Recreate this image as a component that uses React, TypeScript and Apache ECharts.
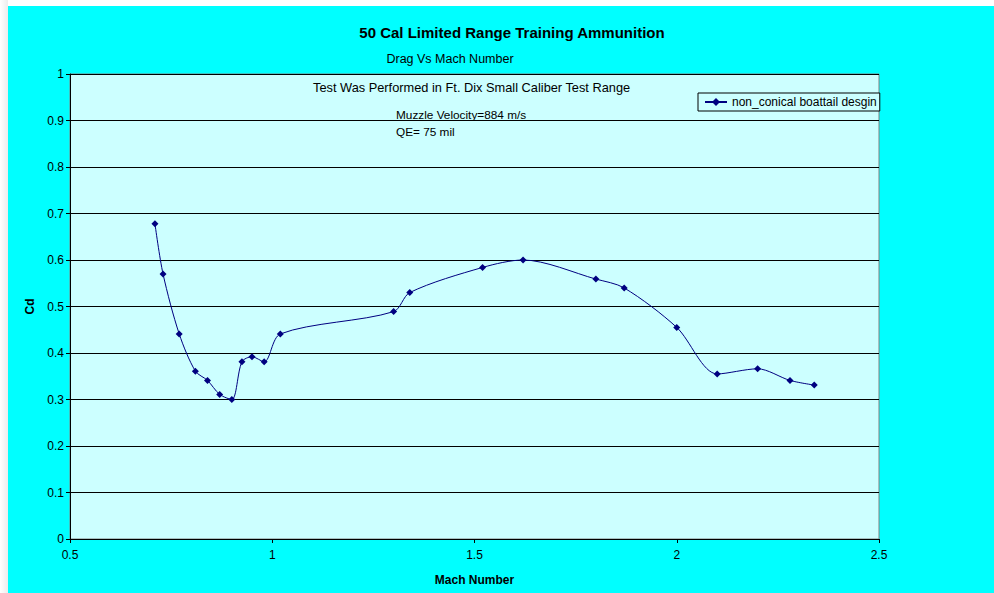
import React, { useEffect, useRef } from "react";
import * as echarts from "echarts";

const machNumbers = [0.71, 0.73, 0.77, 0.81, 0.84, 0.87, 0.9, 0.925, 0.95, 0.98, 1.02, 1.3, 1.34, 1.52, 1.62, 1.8, 1.87, 2.0, 2.1, 2.2, 2.28, 2.34];
const dragCd = [0.678, 0.57, 0.441, 0.361, 0.341, 0.311, 0.3, 0.381, 0.392, 0.381, 0.441, 0.489, 0.53, 0.584, 0.6, 0.559, 0.54, 0.455, 0.355, 0.366, 0.341, 0.331];
const seriesName = "non_conical boattail desgin";
const chartTitle = "50 Cal Limited Range Training Ammunition";
const chartSubtitle = "Drag Vs Mach Number";
const noteLines = ["Test Was Performed in Ft. Dix Small Caliber Test Range", "Muzzle Velocity=884 m/s", "QE= 75 mil"];

export default function App() {
  const ref = useRef<HTMLDivElement>(null);
  useEffect(() => {
    if (!ref.current) return;
    const chart = echarts.init(ref.current, null, { renderer: "svg" });
    const font = "Arial, 'Liberation Sans', sans-serif";
    chart.setOption({
      animation: false,
      backgroundColor: "#00FFFF",
      textStyle: { fontFamily: font },
      title: [
        {
          text: chartTitle,
          left: 499,
          top: 14,
          textAlign: "center",
          textStyle: { fontFamily: font, fontSize: 15, fontWeight: "bold", color: "#000" },
        },
        {
          text: chartSubtitle,
          left: 437,
          top: 41,
          textAlign: "center",
          textStyle: { fontFamily: font, fontSize: 12.5, fontWeight: "normal", color: "#000" },
        },
      ],
      graphic: [
        { type: "text", left: 305, top: 75, style: { text: noteLines[0], font: `12.8px ${font}`, fill: "#000" } },
        { type: "text", left: 388, top: 103, style: { text: noteLines[1], font: `11.8px ${font}`, fill: "#000" } },
        { type: "text", left: 388, top: 120, style: { text: noteLines[2], font: `11.8px ${font}`, fill: "#000" } },
      ],
      legend: {
        left: 690,
        top: 87,
        backgroundColor: "#CCFFFF",
        borderColor: "#000",
        borderWidth: 1,
        borderRadius: 0,
        padding: [3, 3, 3, 6],
        itemWidth: 22,
        itemHeight: 10,
        itemGap: 4,
        textStyle: { fontFamily: font, fontSize: 12, color: "#000", padding: [0, 0, 0, 0] },
        data: [{ name: seriesName }],
      },
      grid: {
        left: 62,
        right: 115,
        top: 68,
        bottom: 54,
        show: true,
        backgroundColor: "#CCFFFF",
        borderColor: "#808080",
        borderWidth: 1,
      },
      xAxis: {
        type: "value",
        min: 0.5,
        max: 2.5,
        interval: 0.5,
        name: "Mach Number",
        nameLocation: "middle",
        nameGap: 35,
        nameTextStyle: { fontFamily: font, fontSize: 12, fontWeight: "bold", color: "#000" },
        axisLine: { show: true, lineStyle: { color: "#000", width: 1 } },
        axisTick: { show: true, inside: false, length: 4, lineStyle: { color: "#000" } },
        axisLabel: { fontFamily: font, fontSize: 12, color: "#000", margin: 10 },
        splitLine: { show: false },
      },
      yAxis: {
        type: "value",
        min: 0,
        max: 1,
        interval: 0.1,
        name: "Cd",
        nameLocation: "middle",
        nameGap: 34,
        nameTextStyle: { fontFamily: font, fontSize: 12, fontWeight: "bold", color: "#000" },
        axisLine: { show: true, lineStyle: { color: "#000", width: 1 } },
        axisTick: { show: true, inside: false, length: 4, lineStyle: { color: "#000" } },
        axisLabel: { fontFamily: font, fontSize: 12, color: "#000", margin: 6 },
        splitLine: { show: true, lineStyle: { color: "#000", width: 1 } },
      },
      series: [
        {
          name: seriesName,
          type: "line",
          data: machNumbers.map((m, i) => [m, dragCd[i]]),
          smooth: 0.3,
          symbol: "diamond",
          symbolSize: 7,
          showAllSymbol: true,
          lineStyle: { color: "#000080", width: 1 },
          itemStyle: { color: "#000080" },
        },
      ],
    });
    return () => chart.dispose();
  }, []);
  return (
    <div
      style={{
        position: "fixed",
        left: 0,
        top: 0,
        width: 994,
        height: 593,
        background: "linear-gradient(to right, #ffffff, #ececec 8px, #ffffff 8px)",
      }}
    >
      <div ref={ref} style={{ position: "absolute", left: 8, top: 6, width: 986, height: 587 }} />
    </div>
  );
}
